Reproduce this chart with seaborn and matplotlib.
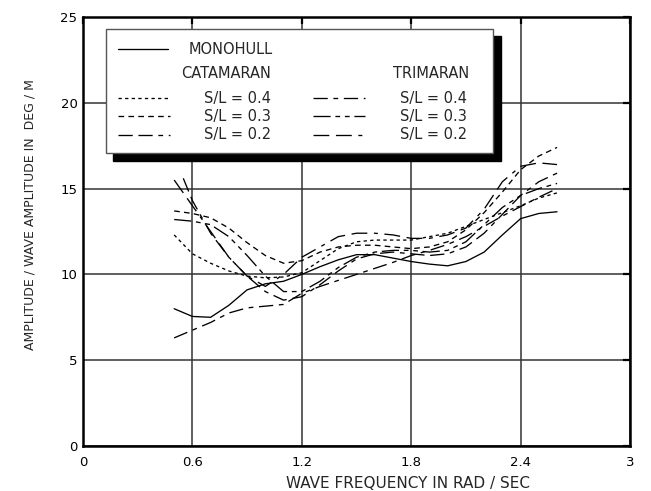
import matplotlib
matplotlib.use("Agg")
import matplotlib.pyplot as plt
import seaborn as sns
import pandas as pd
from matplotlib.patches import Rectangle
from matplotlib.lines import Line2D

# ---------------- data ----------------
freq = [0.5, 0.6, 0.7, 0.8, 0.9, 1.0, 1.1, 1.2, 1.3, 1.4, 1.5,
        1.6, 1.7, 1.8, 1.9, 2.0, 2.1, 2.2, 2.3, 2.4, 2.5, 2.6]
freq_cat02 = [0.55, 0.6, 0.7, 0.8, 0.9, 1.0, 1.1, 1.2, 1.3, 1.4, 1.5,
              1.6, 1.7, 1.8, 1.9, 2.0, 2.1, 2.2, 2.3, 2.4, 2.5, 2.6]

monohull = [8.0, 7.55, 7.5, 8.2, 9.1, 9.45, 9.6, 10.0, 10.45, 10.85, 11.15,
            11.15, 10.95, 10.75, 10.6, 10.5, 10.75, 11.3, 12.3, 13.25, 13.55, 13.65]
cat_04 = [12.3, 11.2, 10.65, 10.2, 9.9, 9.8, 9.85, 10.1, 10.8, 11.5, 11.9,
          12.0, 12.0, 12.0, 12.2, 12.4, 12.8, 13.2, 13.6, 14.0, 14.45, 14.75]
cat_03 = [13.7, 13.55, 13.3, 12.7, 11.85, 11.1, 10.65, 10.8, 11.3, 11.6, 11.7,
          11.7, 11.6, 11.5, 11.6, 11.9, 12.6, 13.6, 14.8, 16.1, 16.9, 17.4]
cat_02 = [15.6, 14.3, 12.4, 11.0, 9.9, 9.0, 8.5, 8.7, 9.4, 10.2, 10.9,
          11.2, 11.3, 11.2, 11.1, 11.2, 11.6, 12.4, 13.5, 14.6, 15.4, 15.9]
tri_04 = [6.3, 6.75, 7.2, 7.75, 8.05, 8.15, 8.25, 8.9, 9.3, 9.65, 10.0,
          10.35, 10.7, 11.1, 11.4, 11.75, 12.2, 12.8, 13.4, 13.95, 14.5, 15.0]
tri_03 = [13.2, 13.1, 12.9, 12.2, 11.1, 9.9, 9.0, 9.0, 9.6, 10.4, 11.0,
          11.3, 11.4, 11.4, 11.3, 11.4, 11.9, 12.9, 13.9, 14.6, 15.0, 15.3]
tri_02 = [15.5, 14.0, 12.5, 11.0, 9.9, 9.3, 10.0, 11.0, 11.6, 12.2, 12.4,
          12.4, 12.3, 12.1, 12.1, 12.3, 12.7, 13.8, 15.4, 16.3, 16.5, 16.4]

x_ticks = [0, 0.6, 1.2, 1.8, 2.4, 3]
x_ticklabels = ["0", "0.6", "1.2", "1.8", "2.4", "3"]
y_ticks = [0, 5, 10, 15, 20, 25]

# ---------------- styles ----------------
styles = {
    "monohull": "-",
    "cat_04": (0, (2.5, 2.5)),
    "cat_03": (0, (4.3, 3.2)),
    "cat_02": (0, (10.8, 4.3, 10.8, 4.3, 3.6, 4.3)),
    "tri_04": (0, (10.8, 4.3, 3.6, 4.3)),
    "tri_03": (0, (13.0, 3.6, 3.6, 3.6, 3.6, 3.6)),
    "tri_02": (0, (12.0, 5.0, 12.0, 5.0, 3.0, 5.0)),
}
series = [
    ("monohull", freq, monohull),
    ("cat_04", freq, cat_04),
    ("cat_03", freq, cat_03),
    ("cat_02", freq_cat02, cat_02),
    ("tri_04", freq, tri_04),
    ("tri_03", freq, tri_03),
    ("tri_02", freq, tri_02),
]

sns.set_theme(style="white")
plt.rcParams["font.family"] = ["DejaVu Sans"]

fig = plt.figure(figsize=(6.51, 4.91), dpi=100)
ax = fig.add_axes([83 / 651, 45 / 491, 547 / 651, 429 / 491])

for name, xs, ys in series:
    df = pd.DataFrame({"x": xs, "y": ys})
    sns.lineplot(data=df, x="x", y="y", ax=ax, color="black", lw=0.95,
                 linestyle=styles[name], sort=False, zorder=3)

ax.set_xlim(0, 3)
ax.set_ylim(0, 25)
ax.set_xticks(x_ticks)
ax.set_xticklabels(x_ticklabels)
ax.set_yticks(y_ticks)
ax.grid(True, color="#333333", lw=1.1)
ax.set_axisbelow(True)
for s in ax.spines.values():
    s.set_color("black")
    s.set_linewidth(1.8)
ax.tick_params(direction="in", length=5, width=1.6, top=True, right=True,
               labelsize=9.5, colors="black", pad=4)
ax.tick_params(axis="x", pad=7)
ax.set_xlabel("WAVE FREQUENCY IN RAD / SEC", fontsize=11)
ax.xaxis.set_label_coords((408 - 83) / 547, (446 - 484) / 429)
ax.xaxis.label.set_va("center")
ax.set_ylabel("AMPLITUDE / WAVE AMPLITUDE IN  DEG / M", fontsize=9)
ax.yaxis.set_label_coords((30 - 83) / 547, (446 - 215) / 429)
ax.yaxis.label.set_va("center")

# ---------------- legend box ----------------
def axx(px):
    return (px - 83) / 547

def axy(py):
    return (446 - py) / 429

shadow = Rectangle((axx(113), axy(161)), axx(501) - axx(113), axy(36) - axy(161),
                   transform=ax.transAxes, facecolor="black", edgecolor="black",
                   zorder=5)
box = Rectangle((axx(106), axy(153)), axx(493) - axx(106), axy(29) - axy(153),
                transform=ax.transAxes, facecolor="white", edgecolor="#555555",
                lw=1.0, zorder=6)
ax.add_patch(shadow)
ax.add_patch(box)

lfs = 10.5
def sample(x0, x1, py, style):
    ax.add_line(Line2D([axx(x0), axx(x1)], [axy(py), axy(py)], transform=ax.transAxes,
                       color="black", lw=0.95, linestyle=style, zorder=7))

sample(118, 168, 49, styles["monohull"])
ax.text(axx(189), axy(49), "MONOHULL", transform=ax.transAxes, fontsize=lfs,
        va="center", ha="left", zorder=7)
ax.text(axx(181), axy(74), "CATAMARAN", transform=ax.transAxes, fontsize=lfs,
        va="center", ha="left", zorder=7)
ax.text(axx(393), axy(74), "TRIMARAN", transform=ax.transAxes, fontsize=lfs,
        va="center", ha="left", zorder=7)
rows = [(98, "0.4"), (116, "0.3"), (135, "0.2")]
for (py, sl) in rows:
    sample(118, 170, py, styles["cat_" + sl.replace(".", "")])
    ax.text(axx(204), axy(py), f"S/L = {sl}", transform=ax.transAxes, fontsize=lfs,
            va="center", ha="left", zorder=7)
    sample(313, 365, py, styles["tri_" + sl.replace(".", "")])
    ax.text(axx(400), axy(py), f"S/L = {sl}", transform=ax.transAxes, fontsize=lfs,
            va="center", ha="left", zorder=7)

fig.savefig("out.png", dpi=100, facecolor="white")
